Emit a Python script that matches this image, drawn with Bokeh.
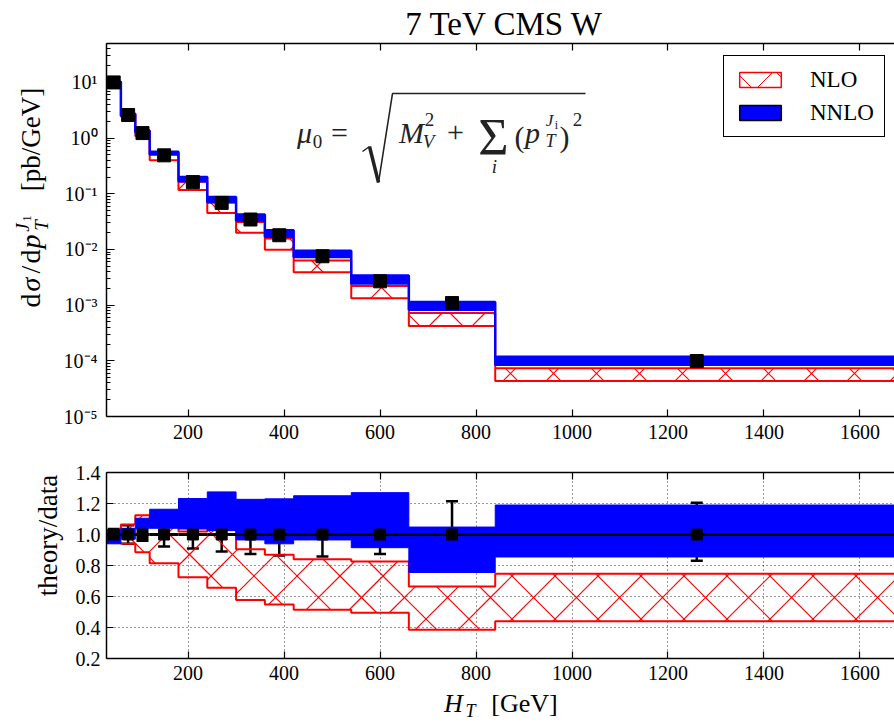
import math
import numpy as np
from bokeh.plotting import figure
from bokeh.models import (Label, Legend, LegendItem, LinearAxis, FixedTicker, CustomJSTickFormatter,
                          Whisker, TeeHead, ColumnDataSource, PolyAnnotation, Range1d,
                          NumeralTickFormatter)
from bokeh.layouts import column, row
from bokeh.embed import file_html
from bokeh.resources import INLINE

# ---------------- data ----------------
edges = [30, 60, 90, 120, 180, 240, 300, 360, 420, 540, 660, 840, 1680]
xsec = [10.0, 2.6, 1.23, 0.49, 0.162, 0.0686, 0.0345, 0.018, 0.00755, 0.00268, 0.00109, 0.000099]
err_up = [0.035, 0.06, 0.04, 0.08, 0.10, 0.12, 0.13, 0.155, 0.16, 0.13, 0.215, 0.205]
err_dn = [0.035, 0.06, 0.04, 0.078, 0.09, 0.11, 0.125, 0.135, 0.142, 0.125, 0.205, 0.17]
nlo_lo = [0.95, 0.94, 0.886, 0.815, 0.724, 0.657, 0.578, 0.548, 0.515, 0.495, 0.386, 0.44]
nlo_hi = [1.02, 1.065, 1.125, 1.07, 1.02, 1.03, 0.905, 0.87, 0.84, 0.826, 0.664, 0.746]
nnlo_lo = [0.94, 0.97, 1.04, 1.04, 1.035, 1.025, 0.965, 0.94, 0.965, 0.915, 0.755, 0.855]
nnlo_hi = [1.03, 1.04, 1.105, 1.163, 1.232, 1.275, 1.227, 1.23, 1.25, 1.27, 1.048, 1.19]
x_ticks = [200, 400, 600, 800, 1000, 1200, 1400, 1600]
log_ticks = [1e-5, 1e-4, 1e-3, 1e-2, 1e-1, 1e0, 1e1]
ratio_ticks = [0.2, 0.4, 0.6, 0.8, 1.0, 1.2, 1.4]

e = np.array(edges, float)
centers = 0.5 * (e[:-1] + e[1:])
xs_arr = np.array(xsec)
ones = np.ones(len(xsec))

SERIF = "Liberation Serif"
BLUE = "#0000ff"
RED = "#ff0000"
A = np.pi / 2
XR = (30, 1672)
YR_TOP = (1e-5, 50)
YR_RAT = (0.2, 1.4)
FW = 788          # frame width (px) of both panels
FH_TOP, FH_RAT = 373, 186
HATCH_STEP = 43   # px spacing of the cross hatching


def step_band(lo, hi):
    xs = np.repeat(e, 2)[1:-1]
    top = np.repeat(np.asarray(hi, float), 2)
    bot = np.repeat(np.asarray(lo, float), 2)
    return np.concatenate([xs, xs[::-1]]), np.concatenate([top, bot[::-1]])


def cross_hatch(lo, hi, fwd, inv, c1_0, c2_0):
    """Cross-hatch segments (45 deg in screen space) clipped to each bin of a band.
    fwd maps data (x, y) -> frame px, inv maps back."""
    s = HATCH_STEP
    out = [[], [], [], []]
    for i in range(len(lo)):
        X0, Y0 = fwd(e[i], lo[i])
        X1, Y1 = fwd(e[i + 1], hi[i])
        segs = []
        for k in range(math.floor((X0 - Y1 - c1_0) / s) - 1, math.ceil((X1 - Y0 - c1_0) / s) + 2):
            c = c1_0 + k * s
            xa, xb = max(X0, Y0 + c), min(X1, Y1 + c)
            if xb > xa:
                segs.append((xa, xa - c, xb, xb - c))
        for k in range(math.floor((X0 + Y0 - c2_0) / s) - 1, math.ceil((X1 + Y1 - c2_0) / s) + 2):
            c = c2_0 + k * s
            xa, xb = max(X0, c - Y1), min(X1, c - Y0)
            if xb > xa:
                segs.append((xa, c - xa, xb, c - xb))
        for (xa, ya, xb, yb) in segs:
            u0, v0 = inv(xa, ya)
            u1, v1 = inv(xb, yb)
            out[0].append(u0); out[1].append(v0); out[2].append(u1); out[3].append(v1)
    return out


AX = FW / (XR[1] - XR[0])
LTOP = math.log10(YR_TOP[0]), math.log10(YR_TOP[1])


def fwd_top(x, y):
    return (x - XR[0]) * AX, (math.log10(y) - LTOP[0]) * FH_TOP / (LTOP[1] - LTOP[0])


def inv_top(X, Y):
    return XR[0] + X / AX, 10 ** (LTOP[0] + Y * (LTOP[1] - LTOP[0]) / FH_TOP)


def fwd_rat(x, y):
    return (x - XR[0]) * AX, (y - YR_RAT[0]) * FH_RAT / (YR_RAT[1] - YR_RAT[0])


def inv_rat(X, Y):
    return XR[0] + X / AX, YR_RAT[0] + Y * (YR_RAT[1] - YR_RAT[0]) / FH_RAT


def style_axis(ax, minor=True):
    ax.axis_line_width = 1.5
    ax.axis_line_color = "black"
    ax.major_tick_in = 7
    ax.major_tick_out = 0
    ax.minor_tick_in = 4 if minor else 0
    ax.minor_tick_out = 0
    ax.major_tick_line_color = "black"
    ax.minor_tick_line_color = "black"
    ax.major_tick_line_width = 1.2
    ax.major_label_text_font = SERIF
    ax.major_label_text_font_size = "20px"
    ax.major_label_text_color = "black"


def blank_axis(ticker):
    ax = LinearAxis(ticker=ticker, formatter=CustomJSTickFormatter(code="return ''"))
    style_axis(ax, minor=False)
    ax.major_label_standoff = 0
    ax.major_label_text_font_size = "1px"
    return ax


def htext(fig, fl, fb, text, cx, base, size, italic=False, color="black", font=SERIF):
    """Horizontal text centred at page x = cx with its baseline at page y = base."""
    fig.add_layout(Label(x=cx - fl, y=fb - (base - 0.34 * size), x_units="screen",
                         y_units="screen", text=text, text_font=font,
                         text_font_size=f"{size}px",
                         text_font_style="italic" if italic else "normal",
                         text_align="center", text_baseline="middle", text_color=color))


def vtext(fig, fl, fb, text, base, cy, size, italic=False, color="black"):
    """Text rotated 90 deg, centred at page y = cy with its baseline at page x = base."""
    fig.add_layout(Label(x=(base - 0.34 * size) - fl, y=fb - cy, x_units="screen",
                         y_units="screen", text=text, text_font=SERIF,
                         text_font_size=f"{size}px", angle=A,
                         text_font_style="italic" if italic else "normal",
                         text_align="center", text_baseline="middle", text_color=color))


def text_fig(w, h):
    f = figure(width=w, height=h, x_range=Range1d(0, w), y_range=Range1d(0, h),
               output_backend="svg", toolbar_location=None, min_border=0,
               x_axis_location=None, y_axis_location=None)
    f.outline_line_color = None
    f.grid.visible = False
    return f


# ---------------- title strip (page y 0-42) ----------------
tf = text_fig(894, 42)
htext(tf, 0, 42, "7 TeV CMS W", 504, 34.5, 33)

# ---------------- top panel (page x 52-894, y 42-448) ----------------
p = figure(width=842, height=406, x_range=Range1d(*XR), y_range=Range1d(*YR_TOP),
           y_axis_type="log", output_backend="svg", toolbar_location=None,
           min_border_left=54, min_border_right=0, min_border_top=1, min_border_bottom=32)
p.outline_line_color = None
p.xgrid.visible = False
p.ygrid.visible = False

t_lo = np.array(nlo_lo) * xs_arr
t_hi = np.array(nlo_hi) * xs_arr
h = cross_hatch(t_lo, t_hi, fwd_top, inv_top, 17, 17)
p.segment(h[0], h[1], h[2], h[3], line_color=RED, line_width=1.2)
xs, ys = step_band(t_lo, t_hi)
p.patch(xs, ys, fill_alpha=0, line_color=RED, line_width=2)
xs, ys = step_band(np.array(nnlo_lo) * xs_arr, np.array(nnlo_hi) * xs_arr)
p.patch(xs, ys, fill_color=BLUE, line_color=BLUE, line_width=2.5)
p.scatter(centers, xs_arr, marker="square", size=13, color="black")

xt = FixedTicker(ticks=x_ticks, minor_ticks=[])
p.xaxis.ticker = xt
style_axis(p.xaxis[0], minor=False)
p.xaxis.major_label_standoff = 8
minor_log = [m * 10.0 ** k for k in range(-5, 2) for m in range(2, 10)]
p.yaxis.ticker = FixedTicker(ticks=log_ticks, minor_ticks=minor_log)
p.yaxis.formatter = CustomJSTickFormatter(code="""
const sup = {"-":"\u207b","0":"\u2070","1":"\u00b9","2":"\u00b2","3":"\u00b3","4":"\u2074",
             "5":"\u2075","6":"\u2076","7":"\u2077","8":"\u2078","9":"\u2079"};
const k = Math.round(Math.log10(tick));
return "10" + String(k).split("").map(c => sup[c]).join("");
""")
style_axis(p.yaxis[0])
p.yaxis.major_tick_in = 8
p.yaxis.major_label_standoff = 9
p.add_layout(blank_axis(xt), "above")

# legend (proxy glyphs that carry only the legend styling)
nan = [np.nan]
leg_nlo = p.quad(left=nan, right=nan, top=nan, bottom=nan, fill_color="white",
                 line_color=RED, line_width=1.5, hatch_pattern="x", hatch_color=RED,
                 hatch_scale=40, hatch_weight=1, hatch_alpha=1)
leg_nnlo = p.quad(left=nan, right=nan, top=nan, bottom=nan, fill_color=BLUE,
                  line_color="black", line_width=1.5)
legend = Legend(items=[LegendItem(label="NLO", renderers=[leg_nlo]),
                       LegendItem(label="NNLO", renderers=[leg_nnlo])],
                location=(617, 279), label_text_font=SERIF, label_text_font_size="23px",
                label_text_color="black", glyph_width=52, glyph_height=19, label_height=27,
                label_standoff=24, padding=10, spacing=6, margin=0,
                border_line_color="black", border_line_width=1.5, border_line_alpha=1)
p.add_layout(legend)

# formula  mu_0 = sqrt(M_V^2 + sum_i (p_T^{J_i})^2), inside the frame
FL1, FB1 = 106, 416
FC = "#222222"
htext(p, FL1, FB1, "\u03bc", 304, 142, 30, italic=True, color=FC)
htext(p, FL1, FB1, "0", 317, 147, 19, color=FC)
htext(p, FL1, FB1, "=", 339, 142, 30, color=FC)
for pts, lw in (([(362, 151), (369, 146)], 1.5), ([(369, 146), (378, 182)], 3.5),
                ([(378, 182), (392, 93), (585, 93)], 1.6)):
    px = [a for a, b in pts] + [a for a, b in pts[::-1]]
    py = [b for a, b in pts] + [b for a, b in pts[::-1]]
    p.add_layout(PolyAnnotation(xs=[x - FL1 for x in px], ys=[FB1 - y for y in py],
                                xs_units="screen", ys_units="screen", fill_alpha=0,
                                line_color=FC, line_alpha=1, line_width=lw))
htext(p, FL1, FB1, "M", 411, 142, 30, italic=True, color=FC)
htext(p, FL1, FB1, "2", 429, 125, 19, color=FC)
htext(p, FL1, FB1, "V", 428, 147, 19, italic=True, color=FC)
htext(p, FL1, FB1, "+", 455, 142, 30, color=FC)
htext(p, FL1, FB1, "\u03a3", 493, 155, 52, color=FC)
htext(p, FL1, FB1, "i", 494, 172, 19, italic=True, color=FC)
htext(p, FL1, FB1, "(", 519, 146, 30, color=FC)
htext(p, FL1, FB1, "p", 532, 142, 30, italic=True, color=FC)
htext(p, FL1, FB1, "T", 550, 147, 18, italic=True, color=FC)
htext(p, FL1, FB1, "J", 549, 126, 17, italic=True, color=FC)
htext(p, FL1, FB1, "i", 556, 129, 12, color=FC)
htext(p, FL1, FB1, ")", 564, 146, 30, color=FC)
htext(p, FL1, FB1, "2", 577, 125, 19, color=FC)

# y label strip of the top panel (page x 0-52, y 42-448)
yl1 = text_fig(52, 406)
bx = 40
vtext(yl1, 0, 448, "d", bx, 332, 28)
vtext(yl1, 0, 448, "\u03c3", bx, 316, 28, italic=True)
vtext(yl1, 0, 448, "/", bx, 301, 28)
vtext(yl1, 0, 448, "d", bx, 288, 28)
vtext(yl1, 0, 448, "p", bx, 273, 28, italic=True)
vtext(yl1, 0, 448, "T", bx + 7, 257, 19, italic=True)
vtext(yl1, 0, 448, "J", bx - 12, 259, 19, italic=True)
vtext(yl1, 0, 448, "1", bx - 9, 250, 13)
vtext(yl1, 0, 448, "[pb/GeV]", bx, 171, 27)

# ---------------- ratio panel (page x 66-894, y 448-688) ----------------
q = figure(width=828, height=240, x_range=Range1d(*XR), y_range=Range1d(*YR_RAT),
           output_backend="svg", toolbar_location=None,
           min_border_left=40, min_border_right=0, min_border_top=24, min_border_bottom=30)
q.outline_line_color = None

h = cross_hatch(nlo_lo, nlo_hi, fwd_rat, inv_rat, 22, 15)
q.segment(h[0], h[1], h[2], h[3], line_color=RED, line_width=1.2)
xs, ys = step_band(nlo_lo, nlo_hi)
q.patch(xs, ys, fill_alpha=0, line_color=RED, line_width=2)
xs, ys = step_band(nnlo_lo, nnlo_hi)
q.patch(xs, ys, fill_color=BLUE, line_color=BLUE, line_width=1)

q.segment(e[:-1], ones, e[1:], ones, line_color="black", line_width=3)
src = ColumnDataSource(dict(x=centers, up=ones + np.array(err_up), lo=ones - np.array(err_dn)))
q.add_layout(Whisker(source=src, base="x", upper="up", lower="lo", dimension="height",
                     line_color="black", line_width=2.5,
                     upper_head=TeeHead(size=12, line_width=2.5, line_color="black"),
                     lower_head=TeeHead(size=12, line_width=2.5, line_color="black")))
q.scatter(centers, ones, marker="square", size=11, color="black")

q.xaxis.ticker = xt
style_axis(q.xaxis[0], minor=False)
q.xaxis.major_label_standoff = 7
rt = FixedTicker(ticks=ratio_ticks, minor_ticks=[])
q.yaxis.ticker = rt
q.yaxis.formatter = NumeralTickFormatter(format="0.0")
style_axis(q.yaxis[0], minor=False)
q.yaxis.major_label_standoff = 6
q.xgrid.ticker = xt
q.ygrid.ticker = rt
for g in (q.xgrid[0], q.ygrid[0]):
    g.grid_line_color = "black"
    g.grid_line_dash = "1 3"
    g.grid_line_width = 1
    g.grid_line_alpha = 0.8
q.add_layout(blank_axis(xt), "above")

yl2 = text_fig(66, 240)
vtext(yl2, 0, 688, "theory/data", 57, 565, 27)

# ---------------- x label strip (page y 688-723) ----------------
xl = text_fig(894, 35)
htext(xl, 0, 723, "H", 453, 711.5, 26, italic=True)
htext(xl, 0, 723, "T", 470, 717, 18, italic=True)
htext(xl, 0, 723, "[GeV]", 524, 711.5, 26)

layout = column(tf, row(yl1, p), row(yl2, q), xl)
open("out.html", "w").write(file_html(layout, INLINE))
